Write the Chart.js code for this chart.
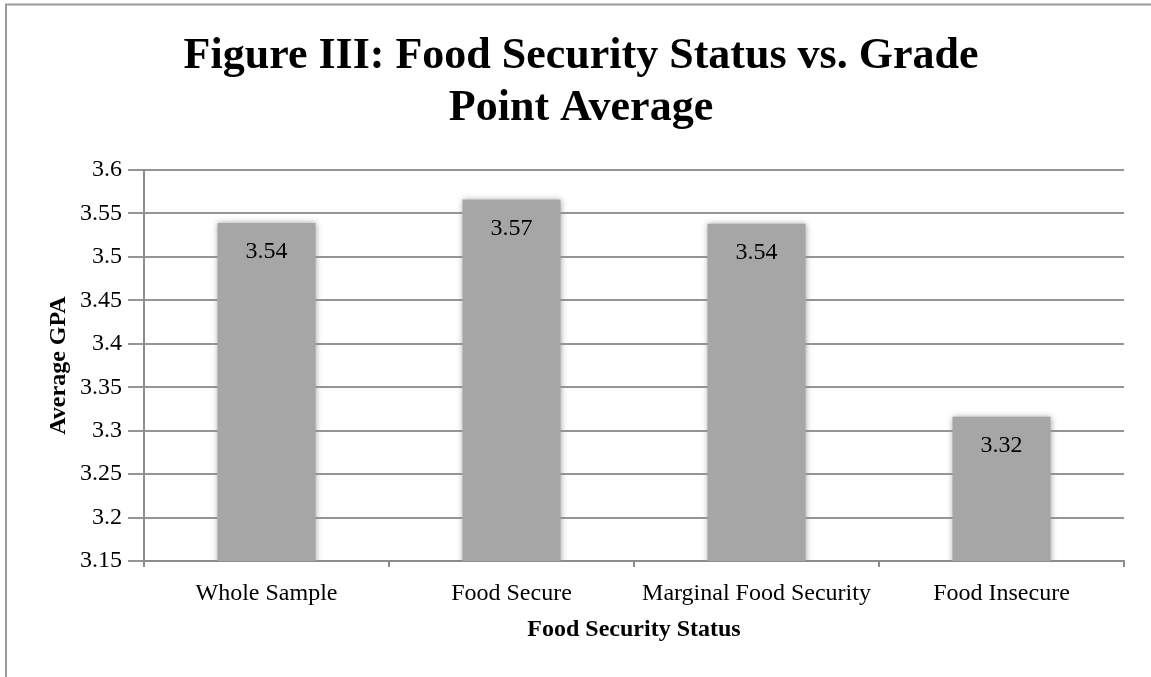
<!DOCTYPE html>
<html>
<head>
<meta charset="utf-8">
<script src="https://cdn.jsdelivr.net/npm/chart.js@4/dist/chart.umd.min.js"></script>
<style>
html,body{margin:0;padding:0;background:#fff;}
canvas{display:block;}
</style>
</head>
<body>
<canvas id="c" width="1151" height="677"></canvas>
<script>
const categories = ["Whole Sample", "Food Secure", "Marginal Food Security", "Food Insecure"];
const gpaValues = [3.539, 3.566, 3.538, 3.316];
const valueLabels = ["3.54", "3.57", "3.54", "3.32"];
const yTickValues = [3.15, 3.2, 3.25, 3.3, 3.35, 3.4, 3.45, 3.5, 3.55, 3.6];
const yTickLabels = ["3.15", "3.2", "3.25", "3.3", "3.35", "3.4", "3.45", "3.5", "3.55", "3.6"];
const titleLines = ["Figure III: Food Security Status vs. Grade", "Point Average"];

const FONT = "'Liberation Serif', 'Times New Roman', serif";
const GRID = "rgba(0,0,0,0.42)";
const AXIS = "#8c8c8c";

const frame = {
  id: 'frame',
  beforeDraw(chart) {
    const ctx = chart.ctx;
    ctx.save();
    ctx.fillStyle = '#fff';
    ctx.fillRect(0, 0, chart.width, chart.height);
    ctx.strokeStyle = '#9a9a9a';
    ctx.lineWidth = 2;
    ctx.strokeRect(6, 4.5, chart.width + 20, chart.height + 20);
    ctx.restore();
  }
};

const barShadow = {
  id: 'barShadow',
  beforeDatasetsDraw(chart) {
    const ctx = chart.ctx;
    ctx.save();
    ctx.shadowColor = 'rgba(150,150,150,0.9)';
    ctx.shadowBlur = 6;
  },
  afterDatasetsDraw(chart) {
    chart.ctx.restore();
  }
};

const valueText = {
  id: 'valueText',
  afterDraw(chart) {
    const ctx = chart.ctx;
    const meta = chart.getDatasetMeta(0);
    ctx.save();
    ctx.font = "24px " + FONT;
    ctx.fillStyle = '#000';
    ctx.textAlign = 'center';
    ctx.textBaseline = 'middle';
    meta.data.forEach((bar, i) => {
      ctx.fillText(valueLabels[i], bar.x, bar.y + 29);
    });
    ctx.restore();
  }
};

new Chart(document.getElementById('c'), {
  type: 'bar',
  data: {
    labels: categories,
    datasets: [{
      data: gpaValues,
      backgroundColor: '#a6a6a6',
      borderWidth: 0,
      barPercentage: 0.4,
      categoryPercentage: 1.0
    }]
  },
  options: {
    responsive: false,
    animation: false,
    devicePixelRatio: 1,
    layout: { padding: { left: 38, right: 27, top: 0, bottom: 0 } },
    plugins: {
      legend: { display: false },
      tooltip: { enabled: false },
      title: {
        display: true,
        text: titleLines,
        color: '#000',
        font: { family: FONT, size: 44, weight: 'bold', lineHeight: 1.1818 },
        padding: { top: 31, bottom: 35 }
      }
    },
    scales: {
      x: {
        grid: { display: true, drawOnChartArea: false, drawTicks: true, tickLength: 6, color: AXIS, lineWidth: 2, offset: true },
        border: { display: true, color: AXIS, width: 2 },
        ticks: { color: '#000', font: { family: FONT, size: 24 }, padding: 12, maxRotation: 0, autoSkip: false },
        title: { display: true, text: 'Food Security Status', color: '#000', font: { family: FONT, size: 24, weight: 'bold' }, padding: { top: 0, bottom: 33 } },
        afterFit(s) { s.height = 116; }
      },
      y: {
        z: 1,
        min: 3.15,
        max: 3.6,
        afterBuildTicks(s) { s.ticks = yTickValues.map(v => ({ value: v })); },
        grid: { color: GRID, lineWidth: 2, drawTicks: true, tickLength: 16 },
        border: { display: true, color: AXIS, width: 2 },
        ticks: {
          color: '#000',
          font: { family: FONT, size: 24 },
          padding: 6,
          callback(v, i) { return yTickLabels[i]; }
        },
        title: { display: true, text: 'Average GPA', color: '#000', font: { family: FONT, size: 24, weight: 'bold' }, padding: { top: 6, bottom: 0 } },
        afterFit(s) { s.width = 106; }
      }
    }
  },
  plugins: [frame, barShadow, valueText]
});
</script>
</body>
</html>
